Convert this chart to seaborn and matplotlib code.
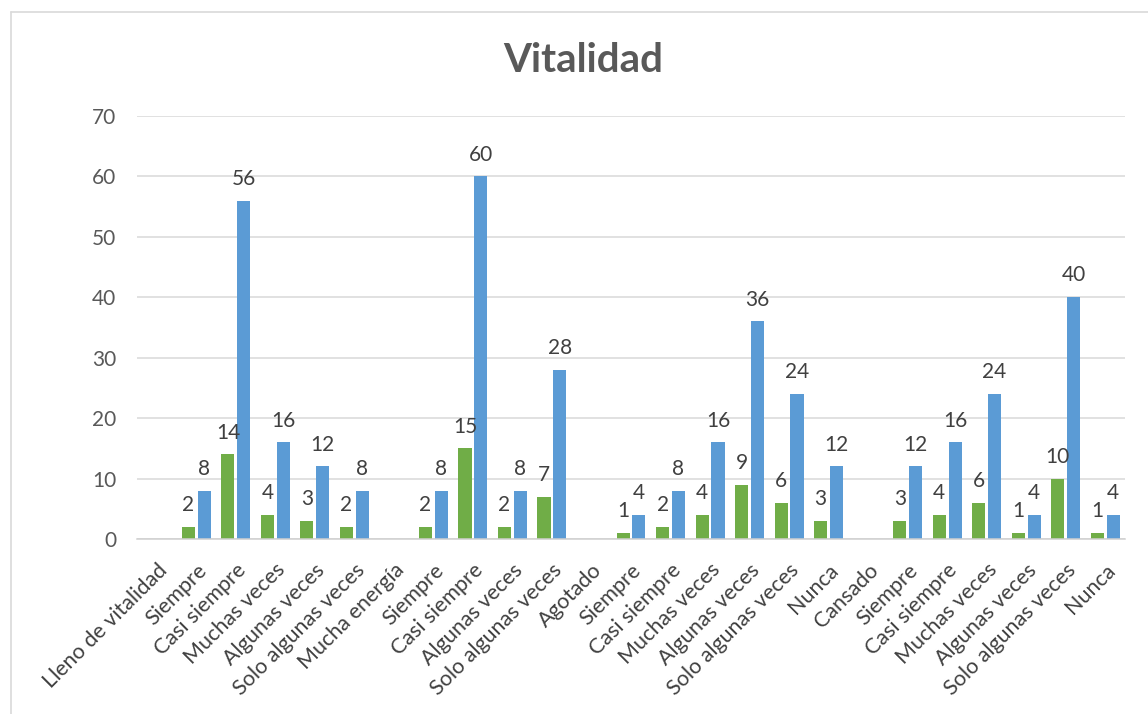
import numpy as np
import pandas as pd
import seaborn as sns
import matplotlib.pyplot as plt
from matplotlib.lines import Line2D
from matplotlib.transforms import ScaledTranslation

# Category labels along the x axis (group headers carry no values)
categories = [
    "Lleno de vitalidad", "Siempre", "Casi siempre", "Muchas veces", "Algunas veces", "Solo algunas veces",
    "Mucha energía", "Siempre", "Casi siempre", "Algunas veces", "Solo algunas veces",
    "Agotado", "Siempre", "Casi siempre", "Muchas veces", "Algunas veces", "Solo algunas veces", "Nunca",
    "Cansado", "Siempre", "Casi siempre", "Muchas veces", "Algunas veces", "Solo algunas veces", "Nunca",
]

nan = np.nan
frecuencia = [nan, 2, 14, 4, 3, 2,
              nan, 2, 15, 2, 7,
              nan, 1, 2, 4, 9, 6, 3,
              nan, 3, 4, 6, 1, 10, 1]
porcentaje = [nan, 8, 56, 16, 12, 8,
              nan, 8, 60, 8, 28,
              nan, 4, 8, 16, 36, 24, 12,
              nan, 12, 16, 24, 4, 40, 4]

series_names = ["Frecuencia", "Porcentaje"]
palette = {"Frecuencia": "#70AD47", "Porcentaje": "#5B9BD5"}
y_ticks = [0, 10, 20, 30, 40, 50, 60, 70]

keys = [f"c{i:02d}" for i in range(len(categories))]
df = pd.DataFrame({
    "key": keys * 2,
    "serie": [series_names[0]] * len(keys) + [series_names[1]] * len(keys),
    "valor": frecuencia + porcentaje,
}).dropna()

sns.set_theme(style="white")
plt.rcParams["font.family"] = ["Lato", "DejaVu Sans"]

W, H, DPI = 1148, 714, 100
fig = plt.figure(figsize=(W / DPI, H / DPI), dpi=DPI)
ax = fig.add_axes([137 / W, 1 - 539 / H, (1125 - 137) / W, (539 - 116) / H])

sns.barplot(data=df, x="key", y="valor", hue="serie", order=keys,
            hue_order=series_names, palette=palette, width=0.8, gap=0.17,
            saturation=1, legend=False, ax=ax, linewidth=0)

for cont in ax.containers:
    ax.bar_label(cont, fmt="%g", padding=8.5, fontsize=15, color="#404040")

ax.set_ylim(0, 70)
ax.set_xlim(-0.5, len(keys) - 0.5)
ax.set_yticks(y_ticks)
ax.set_yticklabels([str(v) for v in y_ticks], fontsize=15, color="#595959")
ax.set_xticks(range(len(keys)))
ax.set_xticklabels(categories, rotation=45, ha="right", va="top",
                   rotation_mode="anchor", fontsize=15.5, color="#404040")
shift = ScaledTranslation(5 / DPI, 0, fig.dpi_scale_trans)
for lab in ax.get_xticklabels():
    lab.set_transform(lab.get_transform() + shift)

ax.tick_params(axis="both", length=0)
ax.tick_params(axis="y", pad=15)
ax.tick_params(axis="x", pad=15)
ax.set_xlabel("")
ax.set_ylabel("")
ax.grid(axis="y", color="#d9d9d9", linewidth=1.1)
ax.set_axisbelow(True)
for side in ["top", "right", "left"]:
    ax.spines[side].set_visible(False)
ax.spines["bottom"].set_color("#d0d0d0")
ax.spines["bottom"].set_linewidth(1.1)

fig.text(583 / W, 1 - 72 / H, "Vitalidad", ha="center", va="baseline",
         fontsize=29, fontweight="bold", color="#595959")

# Chart area frame
fig.add_artist(Line2D([11 / W, 11 / W], [0, 1 - 12 / H], transform=fig.transFigure,
                      color="#d9d9d9", linewidth=1.2))
fig.add_artist(Line2D([11 / W, 1], [1 - 12 / H, 1 - 12 / H], transform=fig.transFigure,
                      color="#d9d9d9", linewidth=1.2))

fig.savefig("out.png", dpi=DPI)
